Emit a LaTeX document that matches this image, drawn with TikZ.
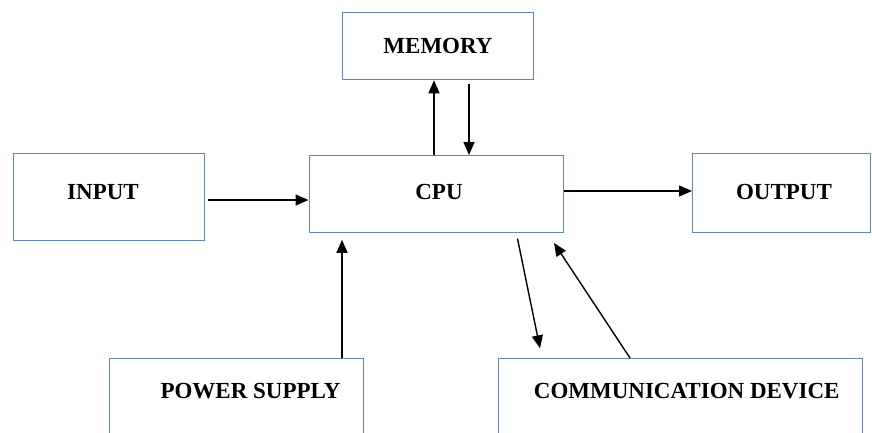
\documentclass[tikz,border=0pt]{standalone}
\usepackage{fontspec}
\setmainfont{Liberation Serif}
\usetikzlibrary{arrows.meta,calc}
\definecolor{boxblue}{RGB}{96,134,180}
\begin{document}
\begin{tikzpicture}[x=1pt,y=-1pt,
  box/.style={draw=boxblue,line width=1.3pt,rectangle,anchor=north west,inner sep=0pt},
  lbl/.style={font=\fontsize{23}{27}\selectfont\bfseries,inner sep=0pt},
  arr/.style={-{Triangle[length=13pt,width=11pt]},line width=1.4pt,draw=black}]
\clip (0,0) rectangle (872,432);
\fill[white] (0,0) rectangle (872,432);
% boxes
\node[box,minimum width=191pt,minimum height=67pt] (mem) at (342,12) {};
\node[box,minimum width=191pt,minimum height=87pt] (inp) at (13,153) {};
\node[box,minimum width=254.5pt,minimum height=77pt] (cpu) at (308.5,155) {};
\node[box,minimum width=178pt,minimum height=79pt] (out) at (692,153) {};
\node[box,minimum width=254pt,minimum height=90pt] (pow) at (109,358) {};
\node[box,minimum width=364.5pt,minimum height=90pt] (comm) at (497.5,358) {};
% labels
\node[lbl] (memt) at (438,46) {MEMORY};
\node[lbl] (cput) at (439,192) {CPU};
\node[lbl] (inpt) at (103,192) {INPUT};
\node[lbl] (outt) at (784,192) {OUTPUT};
\node[lbl] (powt) at (250.5,391.5) {POWER SUPPLY};
\node[lbl] (commt) at (686.7,391.5) {COMMUNICATION DEVICE};
% connectors
\draw[arr] ($(cpu.north west)+(125.5,0)$) -- ($(mem.south west)+(92,0)$);
\draw[arr] ($(mem.south west)+(127,4)$) -- ($(cpu.north west)+(160.5,0)$);
\draw[arr] ($(inp.north east)+(3,47)$) -- ($(cpu.north west)+(0,45)$);
\draw[arr] ($(cpu.north east)+(0,36)$) -- ($(out.north west)+(0,38)$);
\draw[arr] ($(pow.north west)+(233,0)$) -- ($(cpu.south west)+(33.5,6.5)$);
\draw[arr] ($(cpu.south west)+(209,5.3)$) -- ($(comm.north west)+(42.5,-9.7)$);
\draw[arr] ($(comm.north west)+(132.5,0)$) -- ($(cpu.south west)+(245.5,9.7)$);
\end{tikzpicture}
\end{document}
